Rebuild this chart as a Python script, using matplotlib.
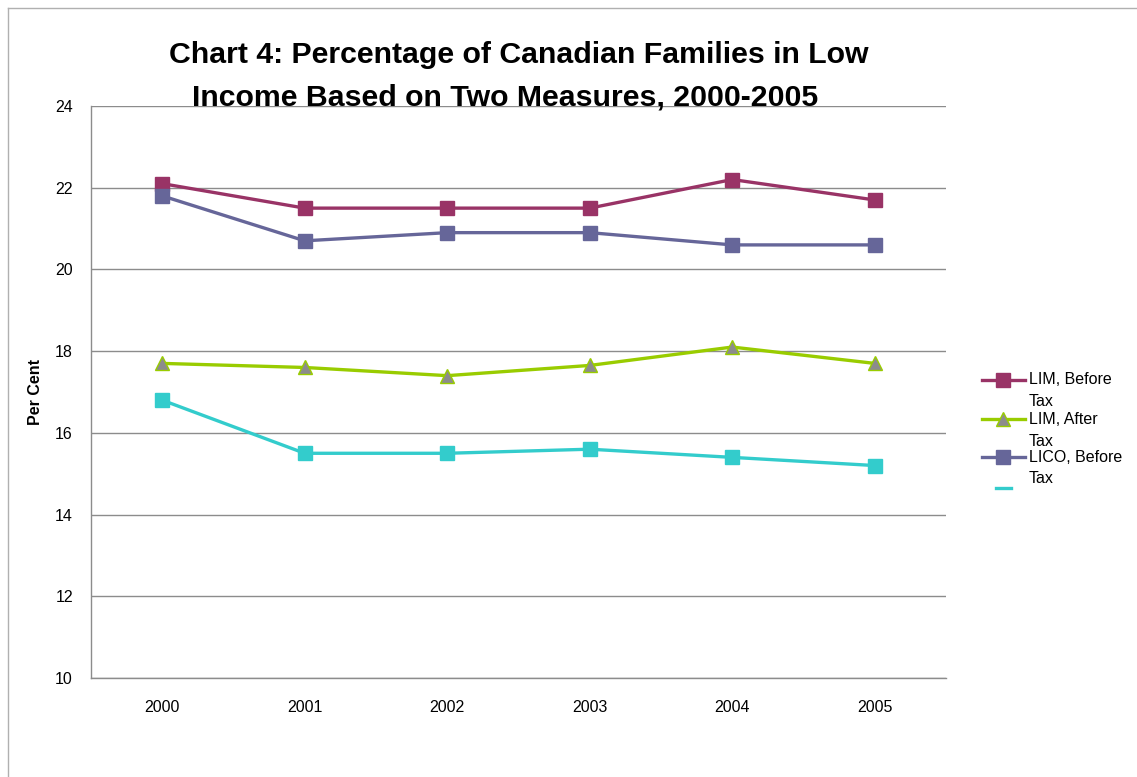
import matplotlib
matplotlib.use("Agg")
import matplotlib.pyplot as plt
from matplotlib.lines import Line2D

plt.rcParams['font.family'] = ['Liberation Sans', 'DejaVu Sans']

years = ['2000', '2001', '2002', '2003', '2004', '2005']
lim_before = [22.1, 21.5, 21.5, 21.5, 22.2, 21.7]
lim_after = [17.7, 17.6, 17.4, 17.65, 18.1, 17.7]
lico_before = [21.8, 20.7, 20.9, 20.9, 20.6, 20.6]
lico_after = [16.8, 15.5, 15.5, 15.6, 15.4, 15.2]

series = [
    ('LIM, Before\nTax', lim_before, dict(color='#993366', marker='s', mfc='#993366', mec='#993366', ms=9.5)),
    ('LIM, After\nTax', lim_after, dict(color='#99CC00', marker='^', mfc='#8c8c8c', mec='#99CC00', ms=9.5)),
    ('LICO, Before\nTax', lico_before, dict(color='#666699', marker='s', mfc='#666699', mec='#666699', ms=9.5)),
    ('LICO, After\nTax', lico_after, dict(color='#33CCCC', marker='s', mfc='#33CCCC', mec='#33CCCC', ms=9.5)),
]

W, H = 1137, 777
fig = plt.figure(figsize=(W / 100, H / 100), dpi=100)
ax = fig.add_axes([0.080, 0.1274, 0.752, 0.7362])

x = list(range(len(years)))
for label, vals, style in series:
    ax.plot(x, vals, lw=2.4, label=label, **style)

ax.set_xlim(-0.5, len(years) - 0.5)
ax.set_ylim(10, 24)
ax.set_yticks(range(10, 25, 2))
ax.set_xticks(x)
ax.set_xticklabels(years)
ax.tick_params(axis='both', length=0, labelsize=11.5)
ax.tick_params(axis='y', pad=13)
ax.tick_params(axis='x', pad=16)
ax.yaxis.grid(True, color='#8c8c8c', lw=1)
ax.set_axisbelow(True)
for side in ('top', 'right'):
    ax.spines[side].set_visible(False)
for side in ('left', 'bottom'):
    ax.spines[side].set_color('#8c8c8c')
    ax.spines[side].set_linewidth(1)

fig.text(35 / W, 1 - 392 / H, 'Per Cent', rotation=90, ha='center', va='center',
         fontsize=11.5, fontweight='bold')

fig.text(519 / W, 1 - 63 / H, 'Chart 4: Percentage of Canadian Families in Low',
         ha='center', va='baseline', fontsize=21.8, fontweight='bold')
fig.text(505 / W, 1 - 105 / H, 'Income Based on Two Measures, 2000-2005',
         ha='center', va='baseline', fontsize=21.8, fontweight='bold')

# outer chart frame (top and left edges)
fig.add_artist(Line2D([8 / W, 1.0], [1 - 8 / H, 1 - 8 / H],
                      transform=fig.transFigure, color='#b0b0b0', lw=1))
fig.add_artist(Line2D([8 / W, 8 / W], [0.0, 1 - 8 / H],
                      transform=fig.transFigure, color='#b0b0b0', lw=1))

# legend, drawn by hand so the wrapped labels overlap as they do in a clipped box
rows = [380, 419, 457]
for (label, vals, style), yp in zip(series[:3], rows):
    fy = 1 - yp / H
    fig.add_artist(Line2D([982 / W, 1025 / W], [fy, fy], transform=fig.transFigure,
                          color=style['color'], lw=2.4))
    fig.add_artist(Line2D([1003 / W], [fy], transform=fig.transFigure, marker=style['marker'],
                          mfc=style['mfc'], mec=style['mec'], ms=9.5, lw=0))
    first, second = label.split('\n')
    fig.text(1029 / W, fy, first, ha='left', va='center', fontsize=11.5)
    fig.text(1029 / W, fy - 22 / H, second, ha='left', va='center', fontsize=11.5)

fy = 1 - 488 / H
fig.add_artist(Line2D([996 / W, 1011 / W], [fy, fy], transform=fig.transFigure,
                      color=series[3][2]['color'], lw=2.4))

fig.savefig('out.png', dpi=100, facecolor='white')
